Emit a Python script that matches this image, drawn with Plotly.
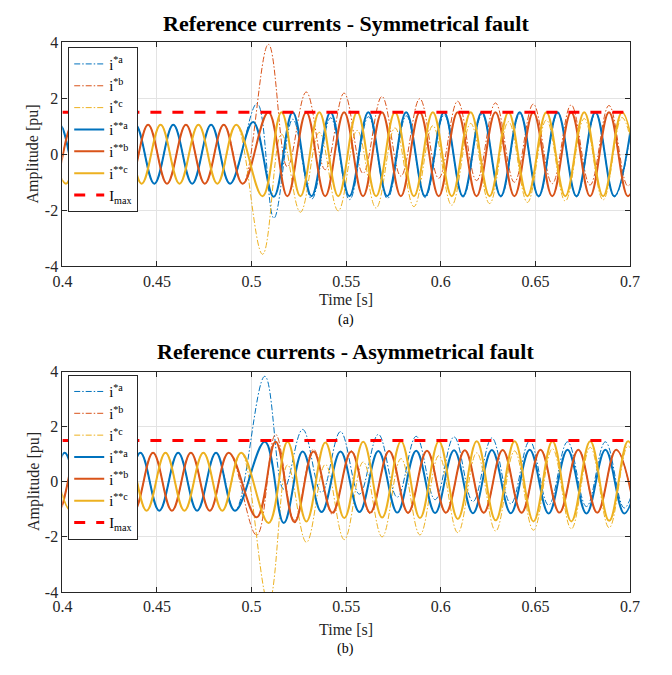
import plotly.graph_objects as go

# ---------------- data ----------------
PERIOD = 0.02          # 50 Hz
HALF = PERIOD / 2
PRE_AMP = 1.05         # pre-fault amplitude [pu]
IMAX = 1.5             # current limit [pu]
T_MIN, T_MAX = 0.4, 0.7

x_ticks = [0.4, 0.45, 0.5, 0.55, 0.6, 0.65, 0.7]
x_tick_labels = ["0.4", "0.45", "0.5", "0.55", "0.6", "0.65", "0.7"]
y_ticks = [-4, -2, 0, 2, 4]
y_tick_labels = ["-4", "-2", "0", "2", "4"]

names = ["i<sup>*a</sup>", "i<sup>*b</sup>", "i<sup>*c</sup>",
         "i<sup>**a</sup>", "i<sup>**b</sup>", "i<sup>**c</sup>"]
imax_name = "I<sub>max</sub>"

# ---- (a) symmetrical fault ----
# time of a positive pre-fault peak of phase a, b, c
sym_pre_peak = [0.3986, 0.4053, 0.4119]
# last pre-fault extremum that is kept (a, b, c)
sym_pre_last = [0.4886, 0.4953, 0.4919]
# first post-fault extremum time (a, b, c)
sym_post_t0_ref = [0.5118, 0.5089, 0.5058]
sym_post_t0_lim = [0.5117, 0.5089, 0.5058]
# extra knots at the fault instant
sym_knot_ref_a = [(0.5029, 1.81)]
sym_knot_lim_a = [(0.5008, 1.15)]
# post-fault extrema (alternating), reference currents i*
sym_ia_ref = [-2.28, 1.25, -1.6, 1.3, -1.62, 1.34, -1.58, 1.37, -1.55, 1.4,
              -1.53, 1.42, -1.52, 1.44, -1.52, 1.45, -1.52, 1.46, -1.52, 1.46]
sym_ib_ref = [3.92, -0.45, 2.22, -0.55, 2.18, -0.68, 2.06, -0.78, 1.98, -0.86,
              1.89, -0.94, 1.83, -1.0, 1.79, -1.05, 1.76, -1.1, 1.74, -1.13, 1.72]
sym_ic_ref = [-3.57, 0.72, -2.07, 0.78, -2.02, 0.85, -1.92, 0.94, -1.87, 1.02,
              -1.82, 1.1, -1.76, 1.16, -1.72, 1.22, -1.67, 1.27, -1.63, 1.31, -1.6]
# limited currents i**
sym_ia_lim = [-1.52, 1.5, -1.5, 1.5, -1.5, 1.5, -1.5, 1.5, -1.5, 1.5,
              -1.5, 1.5, -1.5, 1.5, -1.5, 1.5, -1.5, 1.5, -1.5, 1.5]
sym_ib_lim = [1.5, -1.5, 1.5, -1.5, 1.5, -1.5, 1.5, -1.5, 1.5, -1.5,
              1.5, -1.5, 1.5, -1.5, 1.5, -1.5, 1.5, -1.5, 1.5, -1.5, 1.5]
sym_ic_lim = [-1.5, 1.5, -1.5, 1.5, -1.5, 1.5, -1.5, 1.5, -1.5, 1.5,
              -1.5, 1.5, -1.5, 1.5, -1.5, 1.5, -1.5, 1.5, -1.5, 1.5, -1.5]

# ---- (b) asymmetrical fault ----
asym_pre_peak = [0.4012, 0.4079, 0.4145]
asym_pre_last = [0.4912, 0.4879, 0.4945]
asym_post_t0 = [0.507, 0.5027, 0.509]
asym_ia_ref = [3.83, -0.27, 1.9, -0.39, 1.82, -0.45, 1.72, -0.56, 1.65, -0.65,
               1.63, -0.72, 1.59, -0.8, 1.48, -0.85, 1.45, -0.9, 1.45, -0.95, 1.45]
asym_ib_ref = [-1.94, 1.72, -1.4, 1.18, -1.18, 1.12, -1.16, 1.13, -1.15, 1.14,
               -1.14, 1.15, -1.14, 1.16, -1.14, 1.17, -1.14, 1.17, -1.14, 1.17, -1.14]
asym_ic_ref = [-4.4, 0.61, -2.2, 0.63, -2.1, 0.72, -2.0, 0.84, -1.93, 0.95,
               -1.85, 1.05, -1.79, 1.12, -1.76, 1.2, -1.71, 1.25, -1.67, 1.3, -1.65]
asym_ia_lim = [1.45, -1.5, 1.1, -1.1, 1.1, -1.1, 1.12, -1.12, 1.13, -1.13,
               1.14, -1.14, 1.15, -1.14, 1.16, -1.15, 1.16, -1.15, 1.16, -1.15, 1.16]
asym_ib_lim = [-1.29, 1.45, -1.47, 1.1, -1.12, 1.1, -1.12, 1.12, -1.12, 1.13,
               -1.12, 1.14, -1.12, 1.15, -1.12, 1.16, -1.12, 1.16, -1.12, 1.16, -1.12]
asym_ic_lim = [-1.5, 1.45, -1.44, 1.43, -1.32, 1.45, -1.3, 1.47, -1.32, 1.47,
               -1.35, 1.47, -1.4, 1.47, -1.44, 1.47, -1.44, 1.47, -1.42, 1.47, -1.4]

# ---------------- styling ----------------
COL = ["#0072BD", "#D95319", "#EDB120"]
FONT = "Liberation Serif, Times New Roman, serif"
AX = "#262626"
W, H = 672, 675


def px_x(p):
    return p / W


def px_y(p):
    return 1 - p / H


def knots(pre_peak, pre_last, extra, t0, vals):
    t, v = [], []
    tk = pre_peak - PERIOD
    s = 1
    while tk <= pre_last + 1e-9:
        t.append(tk)
        v.append(s * PRE_AMP)
        tk += HALF
        s = -s
    for kt, kv in extra:
        t.append(kt)
        v.append(kv)
    for k, val in enumerate(vals):
        t.append(t0 + k * HALF)
        v.append(val)
    return t, v


fig = go.Figure()

panels = [
    dict(xa="x", ya="y", leg="legend",
         pre=sym_pre_peak, last=sym_pre_last,
         ref=[sym_ia_ref, sym_ib_ref, sym_ic_ref],
         lim=[sym_ia_lim, sym_ib_lim, sym_ic_lim],
         t0r=sym_post_t0_ref, t0l=sym_post_t0_lim,
         kr=[sym_knot_ref_a, [], []], kl=[sym_knot_lim_a, [], []]),
    dict(xa="x2", ya="y2", leg="legend2",
         pre=asym_pre_peak, last=asym_pre_last,
         ref=[asym_ia_ref, asym_ib_ref, asym_ic_ref],
         lim=[asym_ia_lim, asym_ib_lim, asym_ic_lim],
         t0r=asym_post_t0, t0l=asym_post_t0,
         kr=[[], [], []], kl=[[], [], []]),
]

for p in panels:
    for i in range(3):
        t, v = knots(p["pre"][i], p["last"][i], p["kr"][i], p["t0r"][i], p["ref"][i])
        fig.add_trace(go.Scatter(
            x=t, y=v, mode="lines", name=names[i], xaxis=p["xa"], yaxis=p["ya"],
            legend=p["leg"], legendgroup=p["leg"] + str(i),
            line=dict(color=COL[i], width=1, shape="spline", smoothing=1.1,
                      dash="6px,2px,1.5px,2px")))
    for i in range(3):
        t, v = knots(p["pre"][i], p["last"][i], p["kl"][i], p["t0l"][i], p["lim"][i])
        fig.add_trace(go.Scatter(
            x=t, y=v, mode="lines", name=names[3 + i], xaxis=p["xa"], yaxis=p["ya"],
            legend=p["leg"], legendgroup=p["leg"] + str(3 + i),
            line=dict(color=COL[i], width=2, shape="spline", smoothing=1.1)))
    fig.add_trace(go.Scatter(
        x=[T_MIN, T_MAX], y=[IMAX, IMAX], mode="lines", name=imax_name,
        xaxis=p["xa"], yaxis=p["ya"], legend=p["leg"], legendgroup=p["leg"] + "6",
        line=dict(color="#FF0000", width=3, dash="11px,11px")))

axis_common = dict(
    showline=True, linecolor=AX, linewidth=1, mirror="ticks",
    ticks="inside", ticklen=5, tickcolor=AX, tickwidth=1,
    showgrid=True, gridcolor="#E3E3E3", gridwidth=1, zeroline=False,
    tickfont=dict(family=FONT, size=16, color=AX),
)

xdom = [px_x(54), px_x(639)]
fig.update_layout(
    width=W, height=H,
    margin=dict(l=0, r=0, t=0, b=0),
    paper_bgcolor="white", plot_bgcolor="white",
    font=dict(family=FONT, color="black"),
    xaxis=dict(domain=xdom, range=[T_MIN, T_MAX], anchor="y",
               tickvals=x_ticks, ticktext=x_tick_labels, **axis_common),
    yaxis=dict(domain=[px_y(265), px_y(35)], range=[-4, 4], anchor="x",
               tickvals=y_ticks, ticktext=y_tick_labels, **axis_common),
    xaxis2=dict(domain=xdom, range=[T_MIN, T_MAX], anchor="y2",
                tickvals=x_ticks, ticktext=x_tick_labels, **axis_common),
    yaxis2=dict(domain=[px_y(599), px_y(373)], range=[-4, 4], anchor="x2",
                tickvals=y_ticks, ticktext=y_tick_labels, **axis_common),
    showlegend=True,
)

leg_common = dict(
    xanchor="left", yanchor="top", bgcolor="white",
    bordercolor=AX, borderwidth=1,
    font=dict(family=FONT, size=14.5, color="black"),
    traceorder="grouped", tracegroupgap=0, itemwidth=30,
)
fig.update_layout(
    legend=dict(x=px_x(60), y=px_y(40), **leg_common),
    legend2=dict(x=px_x(60), y=px_y(376), **leg_common),
)

ann = []
ann.append(dict(text="<b>Reference currents - Symmetrical fault</b>",
                x=px_x(346), y=px_y(16), font=dict(size=22, family=FONT, color="black")))
ann.append(dict(text="<b>Reference currents - Asymmetrical fault</b>",
                x=px_x(346), y=px_y(352), font=dict(size=22, family=FONT, color="black")))
for yc in (299, 638):
    ann.append(dict(text="Time [s]", x=px_x(346), y=px_y(yc),
                    font=dict(size=16, family=FONT, color=AX)))
ann.append(dict(text="(a)", x=px_x(346), y=px_y(320), font=dict(size=14, family=FONT, color="black")))
ann.append(dict(text="(b)", x=px_x(346), y=px_y(658), font=dict(size=14, family=FONT, color="black")))
for yc in (150, 486):
    ann.append(dict(text="Amplitude [pu]", x=px_x(24), y=px_y(yc), textangle=-90,
                    font=dict(size=16, family=FONT, color=AX)))
for a in ann:
    a.update(xref="paper", yref="paper", showarrow=False, xanchor="center", yanchor="middle")
fig.update_layout(annotations=ann)

fig.write_html(
    "out.html",
    config={"displayModeBar": False},
    post_script="document.body.style.margin='0';document.body.style.overflow='hidden';",
)
